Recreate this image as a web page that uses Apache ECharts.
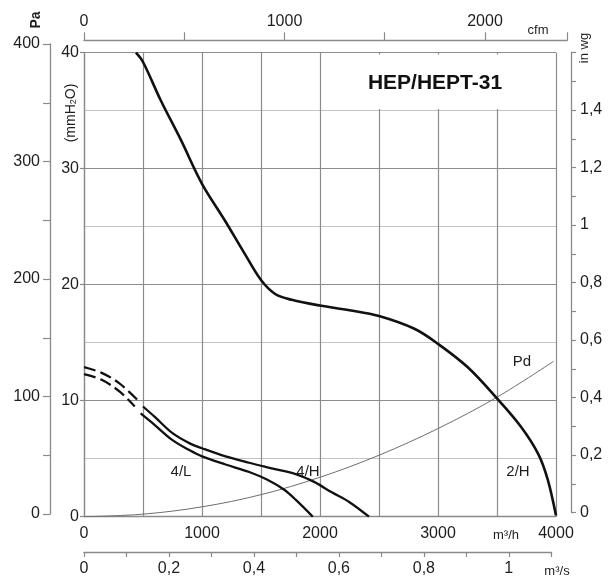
<!DOCTYPE html>
<html><head><meta charset="utf-8">
<script src="https://cdn.jsdelivr.net/npm/echarts@6/dist/echarts.min.js"></script>
<style>html,body{margin:0;padding:0;background:#fff}#c{width:610px;height:580px}</style>
</head><body><div id="c"></div>
<script>
// ---- data (flow in m3/h, pressure in mmH2O) ----
const flow2H  = [440, 500, 650, 820, 1000, 1190, 1360, 1500, 1620, 1760, 2000, 2250, 2500, 2800, 3000, 3250, 3500, 3700, 3850, 3930, 4000];
const pres2H  = [40.0, 39.2, 35.9, 32.5, 28.7, 25.6, 22.7, 20.4, 19.2, 18.7, 18.2, 17.8, 17.3, 16.2, 14.9, 12.9, 10.2, 7.8, 5.4, 3.2, 0.1];

const flow4Hdash = [0, 150, 300, 450];
const pres4Hdash = [12.9, 12.4, 11.5, 10.1];
const flow4H  = [500, 600, 750, 900, 1000, 1200, 1400, 1600, 1800, 1950, 2100, 2250, 2415];
const pres4H  = [9.5, 8.6, 7.2, 6.3, 5.9, 5.2, 4.65, 4.15, 3.65, 3.0, 2.1, 1.25, 0];

const flow4Ldash = [0, 150, 300, 430];
const pres4Ldash = [12.3, 11.8, 10.8, 9.5];
const flow4L  = [480, 600, 750, 900, 1000, 1200, 1400, 1550, 1700, 1800, 1939];
const pres4L  = [8.9, 7.9, 6.6, 5.7, 5.2, 4.5, 3.85, 3.2, 2.3, 1.4, 0];

const flowPd  = [0, 500, 1000, 1500, 2000, 2500, 3000, 3500, 3980];
const presPd  = [0, 0.22, 0.85, 1.9, 3.4, 5.3, 7.6, 10.3, 13.4];

const curveLabels = ['4/L', '4/H', 'Pd', '2/H'];
const titleText = 'HEP/HEPT-31';

function pairs(xs, ys) { return xs.map((x, i) => [x, ys[i]]); }

const FONT = '"Liberation Sans", Arial, Helvetica, sans-serif';
const TXT = '#1e1e1e';
const AX = '#8a8a8a';
const lbl = (extra) => Object.assign({ color: TXT, fontSize: 16, fontFamily: FONT }, extra || {});
const comma = v => { const r = Math.round(v * 10) / 10; return String(r).replace('.', ','); };

const chart = echarts.init(document.getElementById('c'), null, { renderer: 'canvas' });

function line(name, xs, ys, width, color, dash) {
  return {
    name, type: 'line', xAxisIndex: 0, yAxisIndex: 0,
    data: pairs(xs, ys), showSymbol: false, smooth: 0.35,
    silent: true, clip: true,
    lineStyle: { width, color, type: dash || 'solid' }, z: 3
  };
}

chart.setOption({
  animation: false,
  backgroundColor: '#fff',
  grid: [
    { left: 84, top: 52.7, width: 472, height: 464 },   // main
    { left: 50, top: 44, width: 1, height: 470 },        // Pa
    { left: 571, top: 52.5, width: 1, height: 460 },     // in wg
    { left: 84, top: 39.3, width: 483.2, height: 1 },    // cfm
    { left: 84, top: 550, width: 467.3, height: 2 }      // m3/s
  ],
  xAxis: [
    { gridIndex: 0, type: 'value', min: 0, max: 4000, interval: 500,
      axisLine: { lineStyle: { color: AX, width: 1.3 } }, axisTick: { show: false },
      axisLabel: lbl({ margin: 9, formatter: v => (v % 1000 === 0 ? String(v) : '') }),
      splitLine: { show: true, lineStyle: { color: '#8c8c8c', width: 1.2 } } },
    { gridIndex: 1, type: 'value', show: false },
    { gridIndex: 2, type: 'value', show: false },
    { gridIndex: 3, type: 'value', position: 'top', min: 0, max: 2410, interval: 500,
      axisLine: { lineStyle: { color: AX, width: 1.3 } },
      axisTick: { length: 8, lineStyle: { color: AX, width: 1.2 } },
      axisLabel: lbl({ margin: 10, formatter: v => (v % 1000 === 0 ? String(v) : '') }),
      splitLine: { show: false } },
    { gridIndex: 4, type: 'value', position: 'bottom', min: 0, max: 1.1, interval: 0.1,
      axisLine: { lineStyle: { color: AX, width: 1.3 } },
      axisTick: { length: 5, lineStyle: { color: AX, width: 1.2 } },
      axisLabel: lbl({ margin: 9, formatter: v => (Math.round(v * 10) % 2 === 0 ? comma(v) : '') }),
      splitLine: { show: false } }
  ],
  yAxis: [
    { gridIndex: 0, type: 'value', min: 0, max: 40, interval: 10,
      axisLine: { show: true, lineStyle: { color: AX, width: 1.3 } },
      axisTick: { show: true, length: 4, lineStyle: { color: AX, width: 1.2 } },
      axisLabel: lbl({ margin: 5 }),
      splitLine: { show: true, lineStyle: { color: '#8c8c8c', width: 1.2 } },
      minorTick: { show: false, splitNumber: 2 },
      minorSplitLine: { show: true, lineStyle: { color: '#c4c4c4', width: 1.2 } } },
    { gridIndex: 1, type: 'value', position: 'left', min: 0, max: 400, interval: 50,
      axisLine: { show: true, lineStyle: { color: AX, width: 1.3 } },
      axisTick: { show: true, length: 7, lineStyle: { color: AX, width: 1.2 } },
      axisLabel: lbl({ margin: 10, formatter: v => (v % 100 === 0 ? String(v) : '') }),
      splitLine: { show: false } },
    { gridIndex: 2, type: 'value', position: 'right', min: 0, max: 1.6, interval: 0.1,
      axisLine: { show: true, lineStyle: { color: AX, width: 1.3 } },
      axisTick: { show: true, length: 5, lineStyle: { color: AX, width: 1.2 } },
      axisLabel: lbl({ margin: 8, formatter: v => { const t = Math.round(v * 10); return (t % 2 === 0 && t < 16) ? comma(v) : ''; } }),
      splitLine: { show: false } },
    { gridIndex: 3, type: 'value', show: false },
    { gridIndex: 4, type: 'value', show: false }
  ],
  series: [
    line('Pd', flowPd, presPd, 1, '#6e6e6e'),
    line('2/H', flow2H, pres2H, 2.6, '#111'),
    line('4/H', flow4H, pres4H, 2.3, '#111'),
    line('4/H dashed', flow4Hdash, pres4Hdash, 2.3, '#111', [12, 5]),
    line('4/L', flow4L, pres4L, 2.3, '#111'),
    line('4/L dashed', flow4Ldash, pres4Ldash, 2.3, '#111', [12, 5])
  ],
  graphic: [
    { type: 'rect', z: 1, shape: { x: 322, y: 54.5, width: 233, height: 54.5 }, style: { fill: '#fff' } },
    { type: 'text', z: 5, x: 435, y: 83, style: { text: titleText, font: 'bold 21px ' + FONT, fill: '#111', align: 'center', verticalAlign: 'middle' } },
    { type: 'text', z: 5, x: 181, y: 472, style: { text: curveLabels[0], font: '15px ' + FONT, fill: TXT, align: 'center', verticalAlign: 'middle' } },
    { type: 'text', z: 5, x: 308, y: 472, style: { text: curveLabels[1], font: '15px ' + FONT, fill: TXT, align: 'center', verticalAlign: 'middle' } },
    { type: 'text', z: 5, x: 522, y: 362, style: { text: curveLabels[2], font: '15px ' + FONT, fill: TXT, align: 'center', verticalAlign: 'middle' } },
    { type: 'text', z: 5, x: 518, y: 472, style: { text: curveLabels[3], font: '15px ' + FONT, fill: TXT, align: 'center', verticalAlign: 'middle' } },
    { type: 'text', z: 5, x: 36, y: 20, rotation: Math.PI / 2, style: { text: 'Pa', font: 'bold 14px ' + FONT, fill: TXT, align: 'center', verticalAlign: 'middle' } },
    { type: 'text', z: 5, x: 71, y: 113, rotation: Math.PI / 2, style: { text: '(mmH{s|2}O)', rich: { s: { fontSize: 9, fontFamily: FONT, fill: TXT, verticalAlign: 'bottom', padding: [6, 0, 0, 0] } }, font: '14px ' + FONT, fill: TXT, align: 'center', verticalAlign: 'middle' } },
    { type: 'text', z: 5, x: 584, y: 48, rotation: Math.PI / 2, style: { text: 'in wg', font: '13px ' + FONT, fill: TXT, align: 'center', verticalAlign: 'middle' } },
    { type: 'text', z: 5, x: 538, y: 30, style: { text: 'cfm', font: '13px ' + FONT, fill: TXT, align: 'center', verticalAlign: 'middle' } },
    { type: 'text', z: 5, x: 506, y: 535, style: { text: 'm³/h', font: '13px ' + FONT, fill: TXT, align: 'center', verticalAlign: 'middle' } },
    { type: 'text', z: 5, x: 557, y: 571, style: { text: 'm³/s', font: '13px ' + FONT, fill: TXT, align: 'center', verticalAlign: 'middle' } }
  ]
});
</script>
</body></html>
